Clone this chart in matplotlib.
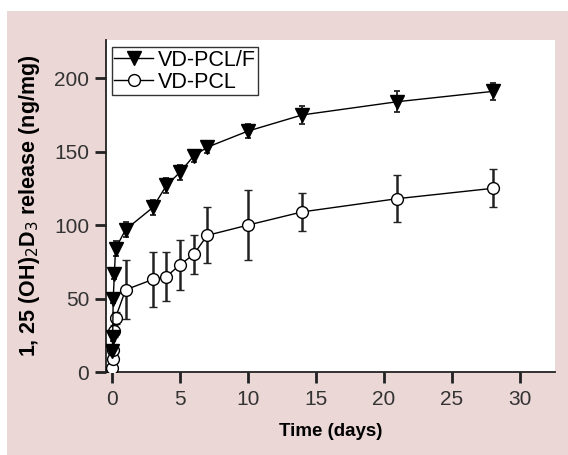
import matplotlib.pyplot as plt
from matplotlib.patches import Rectangle
from matplotlib.lines import Line2D

plt.rcParams['font.family'] = ['Liberation Sans', 'DejaVu Sans']

# VD-PCL/F (filled triangles)
time_f = [0.02, 0.04, 0.08, 0.17, 0.25, 1, 3, 4, 5, 6, 7, 10, 14, 21, 28]
release_f = [14, 24, 50, 67, 84, 97, 112, 127, 136, 147, 153, 164, 175, 184, 191]
err_f = [2, 3, 3, 4, 5, 5, 5, 5, 5, 4, 4, 5, 6, 7, 6]

# VD-PCL (open circles)
time_p = [0.02, 0.04, 0.08, 0.17, 0.25, 1, 3, 4, 5, 6, 7, 10, 14, 21, 28]
release_p = [3, 9, 15, 28, 37, 56, 63, 65, 73, 80, 93, 100, 109, 118, 125]
err_p = [2, 3, 3, 4, 4, 20, 19, 17, 17, 13, 19, 24, 13, 16, 13]

x_ticks = [0, 5, 10, 15, 20, 25, 30]
y_ticks = [0, 50, 100, 150, 200]

fig = plt.figure(figsize=(5.68, 4.55), dpi=100, facecolor='white')
# pink panel behind the plot
bg = Rectangle((7 / 568, 0), 1, (455 - 11) / 455, transform=fig.transFigure,
               facecolor='#ebd7d6', edgecolor='none', zorder=-10)
fig.add_artist(bg)

ax = fig.add_axes([106 / 568, (455 - 372) / 455, (555 - 106) / 568, (372 - 40) / 455])
ax.set_facecolor('white')

ax.errorbar(time_p, release_p, yerr=err_p, fmt='-o', color='black', lw=1,
            mfc='white', mec='black', mew=1, ms=8.5, ecolor='#222222',
            elinewidth=1.8, capsize=3, capthick=1.8, zorder=3)
ax.errorbar(time_f, release_f, yerr=err_f, fmt='-v', color='black', lw=1,
            mfc='black', mec='black', ms=10, ecolor='#222222',
            elinewidth=1.3, capsize=2.3, capthick=1.3, zorder=4)

ax.set_xlim(-0.45, 32.6)
ax.set_ylim(0, 226)
ax.set_xticks(x_ticks)
ax.set_yticks(y_ticks)

for side in ['top', 'right']:
    ax.spines[side].set_visible(False)
for side in ['left', 'bottom']:
    ax.spines[side].set_linewidth(1.3)
    ax.spines[side].set_color('#222222')

ax.tick_params(direction='out', length=8, width=2, color='#222222',
               labelsize=15, labelcolor='#333333')
ax.tick_params(axis='x', pad=5)
ax.tick_params(axis='y', pad=4)

ax.set_xlabel('Time (days)', fontsize=13.5, fontweight='bold', labelpad=10)
ax.set_ylabel('1, 25 (OH)$_2$D$_3$ release (ng/mg)', fontsize=15.5,
              fontweight='bold', labelpad=9)

handles = [
    Line2D([], [], color='black', lw=1, marker='v', ms=10, mfc='black', mec='black'),
    Line2D([], [], color='black', lw=1, marker='o', ms=8.5, mfc='white', mec='black'),
]
leg = ax.legend(handles, ['VD-PCL/F', 'VD-PCL'], loc='upper left',
                bbox_to_anchor=(0.013, 0.979), fontsize=15.5, frameon=True,
                fancybox=False, edgecolor='black', handlelength=1.8,
                handletextpad=0.2, borderpad=0.12, labelspacing=0.05,
                borderaxespad=0)
leg.get_frame().set_linewidth(1)

fig.savefig('out.png', dpi=100, facecolor=fig.get_facecolor())
